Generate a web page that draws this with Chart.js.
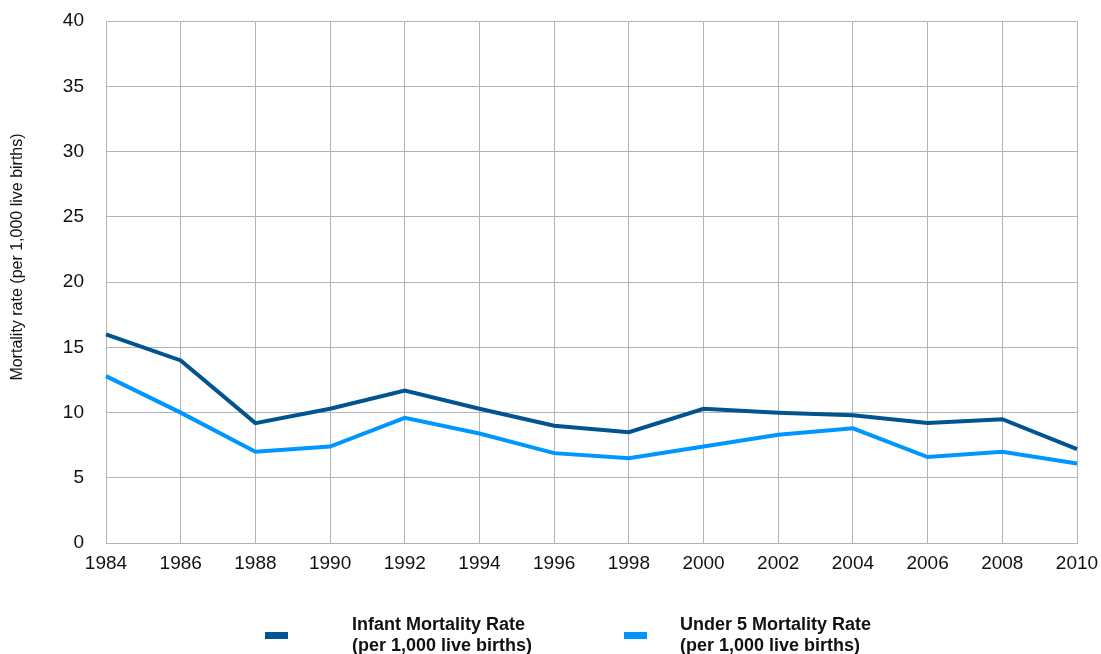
<!DOCTYPE html>
<html>
<head>
<meta charset="utf-8">
<script src="https://cdn.jsdelivr.net/npm/chart.js@4/dist/chart.umd.min.js"></script>
<style>
  html, body { margin: 0; padding: 0; background: #fff; }
  #wrap { width: 1101px; height: 654px; }
</style>
</head>
<body>
<div id="wrap"><canvas id="chart"></canvas></div>
<script>
const years = ['1984', '1986', '1988', '1990', '1992', '1994', '1996', '1998', '2000', '2002', '2004', '2006', '2008', '2010'];

const infantRate = [16.0, 14.0, 9.2, 10.3, 11.7, 10.3, 9.0, 8.5, 10.3, 10.0, 9.8, 9.2, 9.5, 7.2];
const under5Rate = [12.8, 10.0, 7.0, 7.4, 9.6, 8.4, 6.9, 6.5, 7.4, 8.3, 8.8, 6.6, 7.0, 6.1];

const seriesLabels = [
  ['Infant Mortality Rate', '(per 1,000 live births)'],
  ['Under 5 Mortality Rate', '(per 1,000 live births)'],
];
const seriesColors = ['#00548f', '#0096ff'];
const yTitle = 'Mortality rate (per 1,000 live births)';

const fontFamily = '"Liberation Sans", Arial, Helvetica, sans-serif';
const gridColor = '#b4b4b4';

// legend under the chart (two lines per entry) and the y title, which sits a bit above centre
const extraText = {
  id: 'extraText',
  afterDraw: (chart) => {
    const ctx = chart.ctx;
    const items = [
      { box: 265, text: 352 },
      { box: 624, text: 680 },
    ];
    ctx.save();
    ctx.font = `bold 18px ${fontFamily}`;
    ctx.textBaseline = 'middle';
    ctx.textAlign = 'left';
    items.forEach((it, i) => {
      ctx.fillStyle = seriesColors[i];
      ctx.fillRect(it.box, 632, 23, 7);
      ctx.fillStyle = '#111';
      ctx.fillText(seriesLabels[i][0], it.text, 625);
      ctx.fillText(seriesLabels[i][1], it.text, 646);
    });
    ctx.restore();

    ctx.save();
    ctx.translate(18, 257);
    ctx.rotate(-Math.PI / 2);
    ctx.font = `16px ${fontFamily}`;
    ctx.fillStyle = '#111';
    ctx.textAlign = 'center';
    ctx.textBaseline = 'middle';
    ctx.fillText(yTitle, 0, 0);
    ctx.restore();
  }
};

new Chart(document.getElementById('chart'), {
  type: 'line',
  data: {
    labels: years,
    datasets: [{
      label: seriesLabels[0].join(' '),
      data: infantRate,
      borderColor: seriesColors[0],
      backgroundColor: seriesColors[0],
      borderWidth: 4,
      pointRadius: 0,
      tension: 0,
    }, {
      label: seriesLabels[1].join(' '),
      data: under5Rate,
      borderColor: seriesColors[1],
      backgroundColor: seriesColors[1],
      borderWidth: 4,
      pointRadius: 0,
      tension: 0,
    }],
  },
  options: {
    responsive: true,
    maintainAspectRatio: false,
    animation: false,
    layout: {
      padding: { top: 21, right: 24, bottom: 70, left: 4 },
    },
    plugins: {
      legend: { display: false },
      tooltip: { enabled: false },
    },
    scales: {
      x: {
        offset: false,
        grid: { color: gridColor, lineWidth: 1, drawTicks: false },
        border: { color: gridColor },
        ticks: {
          color: '#111',
          font: { family: fontFamily, size: 19 },
          padding: 9,
          maxRotation: 0,
          autoSkip: false,
        },
        afterFit: (scale) => { scale.paddingLeft = 0; scale.paddingRight = 0; },
      },
      y: {
        min: 0,
        max: 40,
        grid: { color: gridColor, lineWidth: 1, drawTicks: false },
        border: { color: gridColor },
        ticks: {
          stepSize: 5,
          color: '#111',
          font: { family: fontFamily, size: 19 },
          padding: 22,
        },
        afterFit: (scale) => { scale.width = 102; scale.paddingTop = 0; scale.paddingBottom = 0; },
      },
    },
  },
  plugins: [extraText],
});
</script>
</body>
</html>
